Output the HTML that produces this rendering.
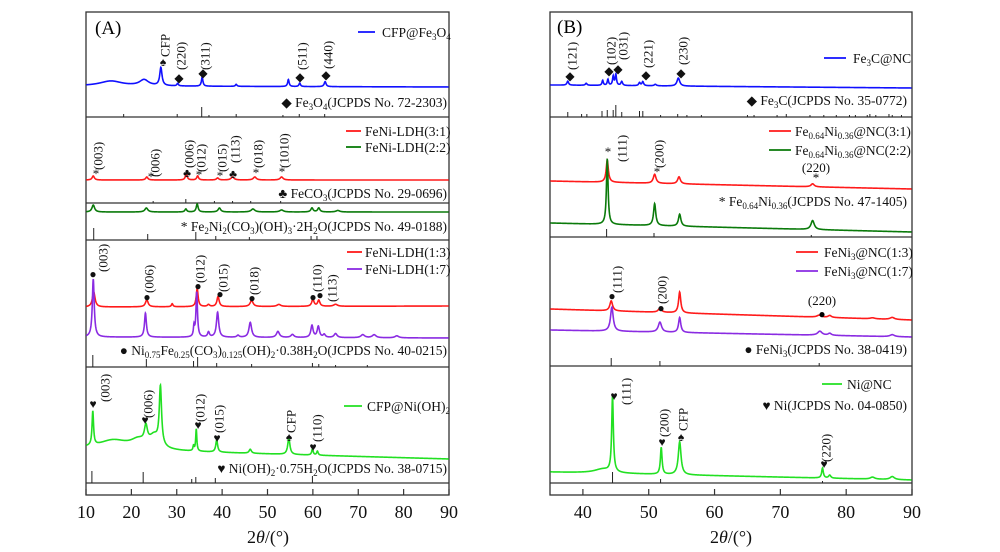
<!DOCTYPE html>
<html><head><meta charset="utf-8"><style>
html,body{margin:0;padding:0;background:#fff;}
svg{display:block;font-family:"Liberation Serif",serif;}
.t{font-size:13.5px;fill:#111;}
.r{font-size:13px;fill:#111;}
.ax{font-size:18px;fill:#111;}
</style></head><body>
<svg id="chart" width="1000" height="552" viewBox="0 0 1000 552">
<g id="frames" fill="none" stroke="#333" stroke-width="1.3">
<rect x="86" y="12" width="363" height="483"/>
<line x1="86" x2="449" y1="117" y2="117"/><line x1="86" x2="449" y1="203" y2="203"/><line x1="86" x2="449" y1="240" y2="240"/><line x1="86" x2="449" y1="367" y2="367"/><line x1="86" x2="449" y1="483" y2="483"/>
<rect x="550" y="12" width="362" height="483"/>
<line x1="550" x2="912" y1="117" y2="117"/><line x1="550" x2="912" y1="237" y2="237"/><line x1="550" x2="912" y1="366" y2="366"/><line x1="550" x2="912" y1="483" y2="483"/>
</g>
<g id="marks"></g>
<g id="legends" stroke-width="1.8">
<line x1="358" x2="375" y1="32" y2="32" stroke="#1010ff"/>
<text class="t" x="382" y="37">CFP@Fe<tspan font-size="9" dy="3">3</tspan><tspan dy="-3">O</tspan><tspan font-size="9" dy="3">4</tspan></text>
<line x1="346" x2="361" y1="131" y2="131" stroke="#ff1a1a"/>
<text class="t" x="365" y="136">FeNi-LDH(3:1)</text>
<line x1="346" x2="361" y1="147" y2="147" stroke="#0a7a0a"/>
<text class="t" x="365" y="152">FeNi-LDH(2:2)</text>
<line x1="347" x2="362" y1="252" y2="252" stroke="#ff1a1a"/>
<text class="t" x="365" y="257">FeNi-LDH(1:3)</text>
<line x1="347" x2="362" y1="269" y2="269" stroke="#8a2be2"/>
<text class="t" x="365" y="274">FeNi-LDH(1:7)</text>
<line x1="344" x2="362" y1="406" y2="406" stroke="#22e022"/>
<text class="t" x="367" y="411">CFP@Ni(OH)<tspan font-size="9" dy="3">2</tspan></text>
<line x1="824" x2="846" y1="58" y2="58" stroke="#1010ff"/>
<text class="t" x="853" y="63">Fe<tspan font-size="9" dy="3">3</tspan><tspan dy="-3">C@NC</tspan></text>
<line x1="769" x2="791" y1="131" y2="131" stroke="#ff1a1a"/>
<text class="t" x="795" y="136">Fe<tspan font-size="9" dy="3">0.64</tspan><tspan dy="-3">Ni</tspan><tspan font-size="9" dy="3">0.36</tspan><tspan dy="-3">@NC(3:1)</tspan></text>
<line x1="769" x2="791" y1="150" y2="150" stroke="#0a7a0a"/>
<text class="t" x="795" y="155">Fe<tspan font-size="9" dy="3">0.64</tspan><tspan dy="-3">Ni</tspan><tspan font-size="9" dy="3">0.36</tspan><tspan dy="-3">@NC(2:2)</tspan></text>
<line x1="796" x2="818" y1="252" y2="252" stroke="#ff1a1a"/>
<text class="t" x="824" y="257">FeNi<tspan font-size="9" dy="3">3</tspan><tspan dy="-3">@NC(1:3)</tspan></text>
<line x1="796" x2="818" y1="271" y2="271" stroke="#8a2be2"/>
<text class="t" x="824" y="276">FeNi<tspan font-size="9" dy="3">3</tspan><tspan dy="-3">@NC(1:7)</tspan></text>
<line x1="822" x2="842" y1="384" y2="384" stroke="#22e022"/>
<text class="t" x="847" y="389">Ni@NC</text>
</g>
<g id="refs">
<text class="t" x="447" y="107" text-anchor="end">◆ Fe<tspan font-size="9" dy="3">3</tspan><tspan dy="-3">O</tspan><tspan font-size="9" dy="3">4</tspan><tspan dy="-3">(JCPDS No. 72-2303)</tspan></text>
<text class="t" x="447" y="198" text-anchor="end">♣ FeCO<tspan font-size="9" dy="3">3</tspan><tspan dy="-3">(JCPDS No. 29-0696)</tspan></text>
<text class="t" x="447" y="231" text-anchor="end">* Fe<tspan font-size="9" dy="3">2</tspan><tspan dy="-3">Ni</tspan><tspan font-size="9" dy="3">2</tspan><tspan dy="-3">(CO</tspan><tspan font-size="9" dy="3">3</tspan><tspan dy="-3">)(OH)</tspan><tspan font-size="9" dy="3">3</tspan><tspan dy="-3">·2H</tspan><tspan font-size="9" dy="3">2</tspan><tspan dy="-3">O(JCPDS No. 49-0188)</tspan></text>
<text class="t" x="447" y="355" text-anchor="end">● Ni<tspan font-size="9" dy="3">0.75</tspan><tspan dy="-3">Fe</tspan><tspan font-size="9" dy="3">0.25</tspan><tspan dy="-3">(CO</tspan><tspan font-size="9" dy="3">3</tspan><tspan dy="-3">)</tspan><tspan font-size="9" dy="3">0.125</tspan><tspan dy="-3">(OH)</tspan><tspan font-size="9" dy="3">2</tspan><tspan dy="-3">·0.38H</tspan><tspan font-size="9" dy="3">2</tspan><tspan dy="-3">O(JCPDS No. 40-0215)</tspan></text>
<text class="t" x="447" y="473" text-anchor="end">♥ Ni(OH)<tspan font-size="9" dy="3">2</tspan><tspan dy="-3">·0.75H</tspan><tspan font-size="9" dy="3">2</tspan><tspan dy="-3">O(JCPDS No. 38-0715)</tspan></text>
<text class="t" x="907" y="105" text-anchor="end">◆ Fe<tspan font-size="9" dy="3">3</tspan><tspan dy="-3">C(JCPDS No. 35-0772)</tspan></text>
<text class="t" x="907" y="206" text-anchor="end">* Fe<tspan font-size="9" dy="3">0.64</tspan><tspan dy="-3">Ni</tspan><tspan font-size="9" dy="3">0.36</tspan><tspan dy="-3">(JCPDS No. 47-1405)</tspan></text>
<text class="t" x="907" y="354" text-anchor="end">● FeNi<tspan font-size="9" dy="3">3</tspan><tspan dy="-3">(JCPDS No. 38-0419)</tspan></text>
<text class="t" x="907" y="410" text-anchor="end">♥ Ni(JCPDS No. 04-0850)</text>
</g>
<text x="95" y="34" font-size="19">(A)</text>
<text x="557" y="33" font-size="19">(B)</text>
<text class="ax" x="268" y="543" text-anchor="middle">2<tspan font-style="italic">θ</tspan>/(°)</text>
<text class="ax" x="731" y="543" text-anchor="middle">2<tspan font-style="italic">θ</tspan>/(°)</text>
</svg>
<script>
// ---- axis tick labels ----
const ticksA = [10,20,30,40,50,60,70,80,90];
const ticksB = [40,50,60,70,80,90];
// ---- Panel A traces: peak positions (deg), intensities, widths ----
const fe3o4Pos=[15.5,22.8,26.5,30.2,35.6,43.1,54.6,57.1,62.7];
const fe3o4Amp=[5,6,18,2.5,9,2,7,3.5,5];
const fe3o4Wid=[3,1.2,0.3,0.2,0.2,0.2,0.2,0.2,0.25];
const fe3o4Sticks=[18.3,30.1,35.5,37.1,43.1,53.4,57.0,62.6];
const fe3o4StickH=[3,3,10,2,3,2,3,3];
const ldh31Pos=[11.6,23.4,32.1,34.6,39.0,42.3,47.2,53.1];
const ldh31Amp=[4,3,6,4,2,3,3,3];
const ldh31Wid=[0.3,0.3,0.25,0.25,0.3,0.4,0.4,0.4];
const feco3Sticks=[24.8,32.0,38.3,42.3,46.3,52.9];
const feco3StickH=[2,4,2,2,2,2];
const ldh22Pos=[11.6,23.3,32.0,34.5,39.4,46.8,53.1,59.8,61.3,65.5];
const ldh22Amp=[7,4,3,8,4,3,2,4,4,1.5];
const ldh22Wid=[0.35,0.4,0.25,0.25,0.35,0.5,0.5,0.3,0.3,0.5];
const fe2ni2Sticks=[11.7,23.6,34.2,38.6,46.0,59.6,60.9];
const fe2ni2StickH=[12,6,8,4,3,4,4];
const ldh13Pos=[11.7,23.4,29.0,34.5,37.0,39.1,46.5,52.5,60.0,61.3,65.0];
const ldh13Amp=[15,7,3,18,2,10,6,2,7,6,2];
const ldh13Wid=[0.35,0.35,0.2,0.25,0.3,0.3,0.4,0.5,0.3,0.3,0.5];
const ldh17Pos=[11.6,23.1,33.8,34.4,37.0,39.0,43.5,46.2,52.3,55.5,59.8,61.2,62.5,65.0,71.0,73.5,78.5];
const ldh17Amp=[58,24,10,45,5,25,2,15,6,3,12,11,3,4,3,3,2];
const ldh17Wid=[0.25,0.25,0.15,0.2,0.25,0.3,0.3,0.35,0.4,0.4,0.3,0.3,0.3,0.4,0.5,0.5,0.5];
const ldhSticks=[11.5,23.3,33.7,34.6,38.8,46.5,59.9,61.3,65.0,72.0];
const ldhStickH=[12,8,6,10,4,3,4,3,2,2];
const nioh2Pos=[11.5,16.0,21.5,23.2,25.0,26.4,33.7,34.3,38.8,46.2,54.7,59.9,61.0];
const nioh2Amp=[34,9,8,16,12,58,5,22,12,4,16,6,4];
const nioh2Wid=[0.2,4,2,0.4,1.3,0.3,0.15,0.15,0.25,0.3,0.3,0.2,0.2];
const nioh2Sticks=[11.3,22.6,33.3,34.2,38.5,59.9];
const nioh2StickH=[12,11,4,6,5,7];
// ---- Panel B traces ----
const fe3cPos=[37.7,40.5,43.0,43.8,44.6,45.0,45.9,48.6,49.1,51.0,54.5];
const fe3cAmp=[4,2,5,6,9,11,4,3,4,1.5,8];
const fe3cWid=[0.15,0.15,0.12,0.12,0.12,0.12,0.15,0.15,0.15,0.2,0.25];
const fe3cSticks=[37.7,39.8,40.6,42.9,43.7,44.6,45.0,45.9,48.6,49.1,51.8,54.4,55.8,58.0,65.0,66.0,69.5,70.9,74.5,76.6,78.5,80.5,81.4,83.2,83.6,84.5,86.5,87.0,88.4];
const fe3cStickH=[5,3,3,6,7,7,12,5,6,6,2,3,2,2,2,2,2,3,2,2,2,2,2,2,3,2,3,2,2];
const fn31Pos=[43.7,50.9,54.6,74.9];
const fn31Amp=[22,9,7,3];
const fn31Wid=[0.2,0.25,0.25,0.3];
const fn22Pos=[43.7,50.9,54.7,74.9];
const fn22Amp=[66,22,12,9];
const fn22Wid=[0.15,0.2,0.22,0.3];
const fenSticks=[43.6,50.8,74.7];
const fenStickH=[8,4,2];
const fni13Pos=[44.3,51.7,54.7,75.9,77.5,84.0,87.0];
const fni13Amp=[10,4,21,2,2,1,2];
const fni13Wid=[0.25,0.3,0.2,0.4,0.3,0.4,0.4];
const fni17Pos=[44.4,51.7,54.7,76.0,77.5,87.0];
const fni17Amp=[24,10,15,4,2,2];
const fni17Wid=[0.25,0.3,0.2,0.4,0.3,0.4];
const feni3Sticks=[44.3,51.7,75.9];
const feni3StickH=[8,5,3];
const niPos=[43.0,44.5,51.9,54.7,76.4,77.5,84.0,87.0];
const niAmp=[4,76,27,33,10,3,2,3];
const niWid=[1.5,0.15,0.15,0.25,0.15,0.2,0.4,0.4];
const niSticks=[44.5,51.8,76.4];
const niStickH=[11,4,2];

const NS='http://www.w3.org/2000/svg';
const marks=document.getElementById('marks');
const svg=document.getElementById('chart');
const PA={x0:86,x1:449,d0:10,d1:90};
const PB={x0:550,x1:912,d0:35,d1:90};
function xScale(p,d){return p.x0+(d-p.d0)/(p.d1-p.d0)*(p.x1-p.x0);}
function intensity(d,pos,amp,wid){let s=0;for(let i=0;i<pos.length;i++){const u=(d-pos[i])/wid[i];s+=amp[i]/(1+u*u);}return s;}
function drawTrace(p,b0,b1,pos,amp,wid,color,name){
  let pts=[];
  for(let d=p.d0+0.05;d<=p.d1-0.05;d+=0.04){
    const base=b0+(b1-b0)*(d-p.d0)/(p.d1-p.d0);
    pts.push(xScale(p,d).toFixed(2)+','+(base-intensity(d,pos,amp,wid)).toFixed(2));
  }
  const pl=document.createElementNS(NS,'polyline');
  pl.setAttribute('points',pts.join(' '));
  pl.setAttribute('fill','none');pl.setAttribute('stroke',color);pl.setAttribute('stroke-width','1.6');
  
  
  marks.appendChild(pl);
}
function drawSticks(p,yb,pos,h,name){
  for(let i=0;i<pos.length;i++){
    const l=document.createElementNS(NS,'line');
    const x=xScale(p,pos[i]);
    l.setAttribute('x1',x);l.setAttribute('x2',x);l.setAttribute('y1',yb);l.setAttribute('y2',yb-h[i]);
    l.setAttribute('stroke','#222');l.setAttribute('stroke-width','1');
    
    
    marks.appendChild(l);
  }
}
function drawAxis(p,ticks,name){
  for(const t of ticks){
    const x=xScale(p,t);
    const l=document.createElementNS(NS,'line');
    l.setAttribute('x1',x);l.setAttribute('x2',x);l.setAttribute('y1',495);l.setAttribute('y2',489);
    l.setAttribute('stroke','#333');l.setAttribute('stroke-width','1.2');
    
    
    marks.appendChild(l);
    const tx=document.createElementNS(NS,'text');
    tx.setAttribute('x',x);tx.setAttribute('y',518);tx.setAttribute('text-anchor','middle');tx.setAttribute('class','ax');
    tx.textContent=t;
    
    
    svg.appendChild(tx);
  }
}
drawTrace(PA,86,87,fe3o4Pos,fe3o4Amp,fe3o4Wid,'#1010ff','trace-cfp-fe3o4');
drawSticks(PA,117,fe3o4Sticks,fe3o4StickH,'stick-fe3o4');
drawTrace(PA,180,180,ldh31Pos,ldh31Amp,ldh31Wid,'#ff1a1a','trace-feni-ldh-3-1');
drawSticks(PA,203,feco3Sticks,feco3StickH,'stick-feco3');
drawTrace(PA,212,212,ldh22Pos,ldh22Amp,ldh22Wid,'#0a7a0a','trace-feni-ldh-2-2');
drawSticks(PA,240,fe2ni2Sticks,fe2ni2StickH,'stick-fe2ni2');
drawTrace(PA,307,306,ldh13Pos,ldh13Amp,ldh13Wid,'#ff1a1a','trace-feni-ldh-1-3');
drawTrace(PA,337,338,ldh17Pos,ldh17Amp,ldh17Wid,'#8a2be2','trace-feni-ldh-1-7');
drawSticks(PA,367,ldhSticks,ldhStickH,'stick-ni075fe025');
drawTrace(PA,449,459,nioh2Pos,nioh2Amp,nioh2Wid,'#22e022','trace-cfp-nioh2');
drawSticks(PA,483,nioh2Sticks,nioh2StickH,'stick-nioh2');
drawTrace(PB,85,88,fe3cPos,fe3cAmp,fe3cWid,'#1010ff','trace-fe3c-nc');
drawSticks(PB,117,fe3cSticks,fe3cStickH,'stick-fe3c');
drawTrace(PB,181,189,fn31Pos,fn31Amp,fn31Wid,'#ff1a1a','trace-fenialloy-3-1');
drawTrace(PB,223,232,fn22Pos,fn22Amp,fn22Wid,'#0a7a0a','trace-fenialloy-2-2');
drawSticks(PB,237,fenSticks,fenStickH,'stick-fenialloy');
drawTrace(PB,309,320,fni13Pos,fni13Amp,fni13Wid,'#ff1a1a','trace-feni3-1-3');
drawTrace(PB,330,337,fni17Pos,fni17Amp,fni17Wid,'#8a2be2','trace-feni3-1-7');
drawSticks(PB,366,feni3Sticks,feni3StickH,'stick-feni3');
drawTrace(PB,472,480,niPos,niAmp,niWid,'#22e022','trace-ni-nc');
drawSticks(PB,483,niSticks,niStickH,'stick-ni');
drawAxis(PA,ticksA,'x-axis-a');
drawAxis(PB,ticksB,'x-axis-b');

// ---- peak annotations: [marker, markerX, markerY, label, labelX, labelBottom] ----
const annotations=[
 ['♠',163,66,'CFP',165,57],['◆',179,82,'(220)',181,70],['◆',203,77,'(311)',205,70],['◆',300,81,'(511)',302,70],['◆',326,79,'(440)',328,69],
 ['*',96,178,'(003)',98,170],['*',151,181,'(006)',155,177],['♣',187,177,'(006)',189,168],['*',199,179,'(012)',201,172],['*',220,180,'(015)',222,172],['♣',233,178,'(113)',235,163],['*',256,177,'(018)',258,168],['*',282,176,'(1010)',284,168],
 ['●',93,278,'(003)',103,272],['●',147,301,'(006)',149,293],['●',198,290,'(012)',200,283],['●',220,298,'(015)',223,292],['●',252,302,'(018)',254,295],['●',313,301,'(110)',317,292],['●',320,299,'(113)',332,302],
 ['♥',93,408,'(003)',105,402],['♥',145,424,'(006)',148,418],['♥',198,429,'(012)',200,422],['♥',217,442,'(015)',219,433],['♠',289,441,'CFP',291,433],['♥',313,451,'(110)',317,442],
 ['◆',570,80,'(121)',572,70],['◆',609,75,'(102)',611,65],['◆',618,73,'(031)',623,60],['◆',646,79,'(221)',648,68],['◆',681,77,'(230)',683,65],
 ['*',608,156,'(111)',622,162],['*',657,176,'(200)',659,168],
 ['●',612,300,'(111)',617,293],['●',661,312,'(200)',662,304],
 ['♥',614,400,'(111)',626,405],['♥',662,446,'(200)',664,437],['♠',681,441,'CFP',683,431],['♥',824,468,'(220)',826,462]
];
for(const a of annotations){
  const m=document.createElementNS(NS,'text');
  m.setAttribute('x',a[1]);m.setAttribute('y',a[2]);m.setAttribute('text-anchor','middle');
  m.setAttribute('font-size',a[0]==='*'?'13':'12');m.setAttribute('fill','#111');
  m.textContent=a[0];
  
  
  svg.appendChild(m);
  const t=document.createElementNS(NS,'text');
  t.setAttribute('transform','translate('+(a[4]+4.5)+','+a[5]+') rotate(-90)');
  t.setAttribute('class','r');
  t.textContent=a[3];
  
  
  svg.appendChild(t);
}
// horizontal (220) labels in panel B
const hLabels=[['*',816,182,'(220)',816,172],['●',822,318,'(220)',822,305]];
for(const h of hLabels){
  const m=document.createElementNS(NS,'text');
  m.setAttribute('x',h[1]);m.setAttribute('y',h[2]);m.setAttribute('text-anchor','middle');m.setAttribute('font-size',h[0]==='*'?'13':'12');
  m.textContent=h[0];
  
  
  svg.appendChild(m);
  const t=document.createElementNS(NS,'text');
  t.setAttribute('x',h[4]);t.setAttribute('y',h[5]);t.setAttribute('text-anchor','middle');t.setAttribute('class','r');
  t.textContent=h[3];
  
  
  svg.appendChild(t);
}
</script>
</body></html>
